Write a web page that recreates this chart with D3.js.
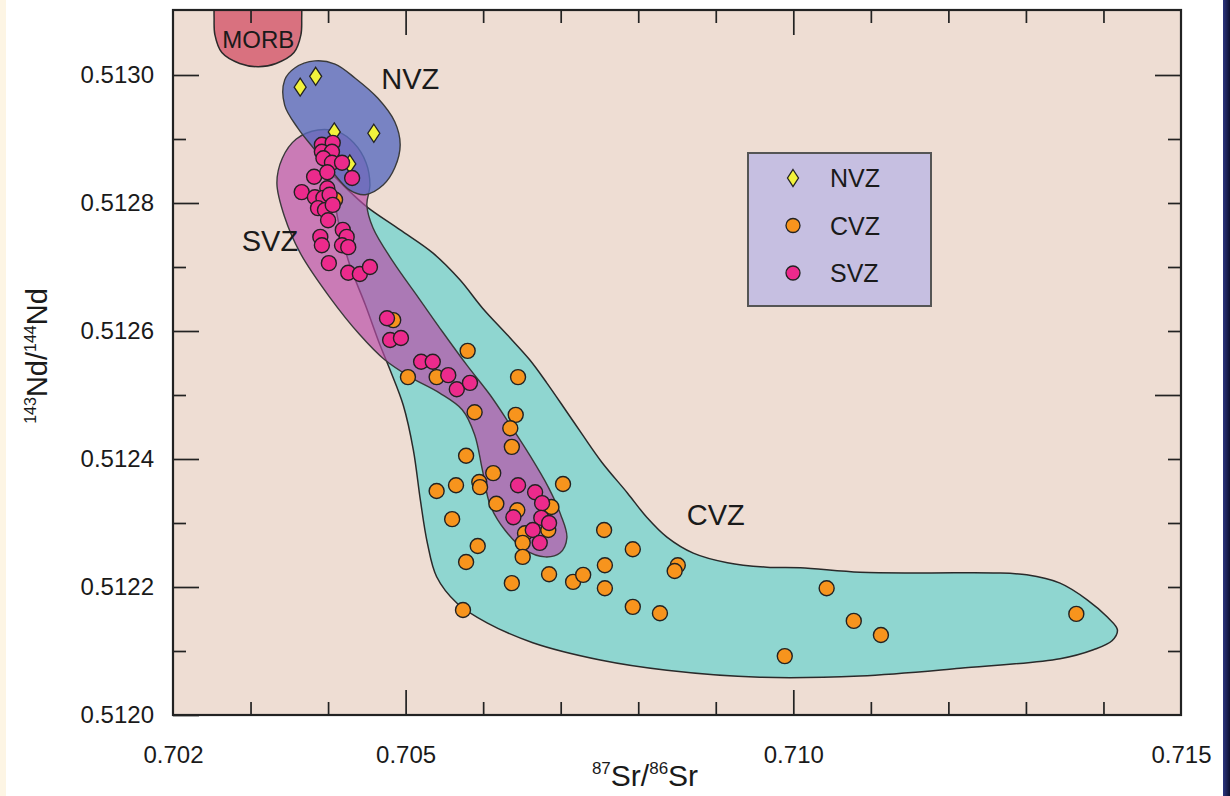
<!DOCTYPE html>
<html>
<head>
<meta charset="utf-8">
<script src="https://cdn.jsdelivr.net/npm/d3@7"></script>
<style>
  body { margin: 0; background: #fff; }
  text { font-family: "Liberation Sans", Arial, Helvetica, sans-serif; fill: #1a1a1a; }
</style>
</head>
<body>
<div id="app"></div>
<script>
// 87Sr/86Sr , 143Nd/144Nd
const nvzPoints = [
  [0.70364, 0.512981], [0.70384, 0.512998], [0.70408, 0.512911],
  [0.70459, 0.512909], [0.70428, 0.512861]
];

const cvzPoints = [
  [0.70484, 0.512617], [0.70409, 0.512805], [0.70503, 0.512528], [0.70540, 0.512528],
  [0.70580, 0.512569], [0.70645, 0.512528], [0.70589, 0.512473], [0.70642, 0.512469],
  [0.70635, 0.512448], [0.70637, 0.512419], [0.70578, 0.512405], [0.70613, 0.512378],
  [0.70703, 0.512361], [0.70540, 0.512350], [0.70565, 0.512359], [0.70595, 0.512364],
  [0.70596, 0.512356], [0.70617, 0.512330], [0.70688, 0.512325], [0.70644, 0.512320],
  [0.70560, 0.512306], [0.70654, 0.512284], [0.70684, 0.512289], [0.70756, 0.512289],
  [0.70651, 0.512269], [0.70593, 0.512264], [0.70578, 0.512239], [0.70651, 0.512247],
  [0.70793, 0.512259], [0.70685, 0.512220], [0.70637, 0.512206], [0.70716, 0.512208],
  [0.70729, 0.512219], [0.70757, 0.512234], [0.70851, 0.512234], [0.70847, 0.512225],
  [0.70757, 0.512198], [0.70793, 0.512169], [0.70828, 0.512159], [0.70574, 0.512164],
  [0.70989, 0.512092], [0.71043, 0.512198], [0.71078, 0.512147], [0.71113, 0.512125],
  [0.71365, 0.512158]
];

const svzPoints = [
  [0.70392, 0.512891], [0.70406, 0.512894], [0.70392, 0.512880], [0.70405, 0.512880],
  [0.70394, 0.512870], [0.70405, 0.512863], [0.70418, 0.512863], [0.70431, 0.512839],
  [0.70382, 0.512841], [0.70399, 0.512848], [0.70399, 0.512823], [0.70366, 0.512817],
  [0.70383, 0.512809], [0.70394, 0.512808], [0.70402, 0.512813], [0.70387, 0.512792],
  [0.70396, 0.512789], [0.70406, 0.512797], [0.70400, 0.512773], [0.70390, 0.512747],
  [0.70392, 0.512734], [0.70419, 0.512758], [0.70424, 0.512747], [0.70418, 0.512734],
  [0.70426, 0.512731], [0.70401, 0.512706], [0.70426, 0.512691], [0.70441, 0.512689],
  [0.70454, 0.512700], [0.70476, 0.512620], [0.70480, 0.512586], [0.70494, 0.512589],
  [0.70520, 0.512552], [0.70535, 0.512552], [0.70555, 0.512531], [0.70566, 0.512509],
  [0.70583, 0.512519], [0.70645, 0.512359], [0.70667, 0.512348], [0.70676, 0.512331],
  [0.70639, 0.512309], [0.70675, 0.512308], [0.70685, 0.512300], [0.70664, 0.512289],
  [0.70673, 0.512269]
];

// field outlines
const morbOutline = [
  [0.70253, 0.51318], [0.70253, 0.51312], [0.70253, 0.51309], [0.70254, 0.513063],
  [0.70263, 0.513035], [0.70286, 0.513018], [0.70310, 0.513013], [0.70333, 0.513018],
  [0.70356, 0.513035], [0.70365, 0.513063], [0.70366, 0.51309], [0.70366, 0.51312],
  [0.70366, 0.51318], [0.70310, 0.51322]
];

const nvzOutline = [
  [0.70344, 0.512992], [0.70357, 0.513011], [0.70383, 0.513022], [0.70409, 0.513017],
  [0.70435, 0.512995], [0.70464, 0.512964], [0.70486, 0.512927], [0.70493, 0.512891],
  [0.70486, 0.512855], [0.70471, 0.512828], [0.70448, 0.512813], [0.70428, 0.512820],
  [0.70406, 0.512848], [0.70383, 0.512883], [0.70361, 0.512917], [0.70344, 0.512953]
];

const svzOutline = [
  [0.70387, 0.512914], [0.70413, 0.512911], [0.70433, 0.512894], [0.70449, 0.512863],
  [0.70454, 0.512828], [0.70450, 0.512797], [0.70458, 0.512761], [0.70484, 0.512708],
  [0.70516, 0.512653], [0.70548, 0.512598], [0.70580, 0.512545], [0.70609, 0.512500],
  [0.70635, 0.512453], [0.70660, 0.512406], [0.70684, 0.512356], [0.70700, 0.512313],
  [0.70708, 0.512277], [0.70699, 0.512253], [0.70680, 0.512247], [0.70654, 0.512258],
  [0.70628, 0.512289], [0.70609, 0.512328], [0.70599, 0.512383], [0.70589, 0.512438],
  [0.70573, 0.512477], [0.70544, 0.512503], [0.70506, 0.512528], [0.70473, 0.512555],
  [0.70441, 0.512594], [0.70402, 0.512653], [0.70364, 0.512722], [0.70344, 0.512778],
  [0.70334, 0.512831], [0.70341, 0.512870], [0.70359, 0.512900]
];

const cvzOutline = [
  [0.70400, 0.512848], [0.70426, 0.512820], [0.70450, 0.512794], [0.70493, 0.512758],
  [0.70535, 0.512722], [0.70570, 0.512680], [0.70599, 0.512636], [0.70631, 0.512594],
  [0.70660, 0.512555], [0.70682, 0.512519], [0.70706, 0.512477], [0.70728, 0.512438],
  [0.70753, 0.512395], [0.70786, 0.512347], [0.70811, 0.512309], [0.70837, 0.512278],
  [0.70871, 0.512253], [0.70915, 0.512238], [0.70966, 0.512231], [0.71009, 0.512230],
  [0.71086, 0.512223], [0.71172, 0.512222], [0.71258, 0.512222], [0.71301, 0.512219],
  [0.71344, 0.512206], [0.71379, 0.512180], [0.71405, 0.512153], [0.71418, 0.512133],
  [0.71411, 0.512116], [0.71387, 0.512102], [0.71344, 0.512088], [0.71215, 0.512073],
  [0.71086, 0.512061], [0.70957, 0.512059], [0.70837, 0.512070], [0.70751, 0.512086],
  [0.70664, 0.512113], [0.70605, 0.512144], [0.70566, 0.512175], [0.70540, 0.512216],
  [0.70528, 0.512269], [0.70519, 0.512336], [0.70510, 0.512414], [0.70497, 0.512484],
  [0.70480, 0.512539], [0.70467, 0.512578], [0.70448, 0.512641], [0.70428, 0.512703],
  [0.70415, 0.512761], [0.70408, 0.512805]
];

const fieldLabels = [
  ['MORB', 0.70310, 0.513055],
  ['NVZ', 0.70506, 0.512995],
  ['SVZ', 0.70325, 0.512742],
  ['CVZ', 0.70900, 0.512313]
];

const seriesNames = ['NVZ', 'CVZ', 'SVZ'];

const xLabelTicks = [0.702, 0.705, 0.710, 0.715];
const xMajorTicks = [0.705, 0.710];
const xMinorTicks = [0.703, 0.704, 0.706, 0.707, 0.708, 0.709, 0.711, 0.712, 0.713, 0.714];
const yLabelTicks = [0.5120, 0.5122, 0.5124, 0.5126, 0.5128, 0.5130];
const yMinorTicks = [0.5121, 0.5123, 0.5125, 0.5127, 0.5129];
const yRightMajorTicks = [0.5125, 0.5130];
const yRightMinorTicks = [0.5121, 0.5122, 0.5123, 0.5124, 0.5126, 0.5127, 0.5128, 0.5129];

const width = 1230;
const height = 796;
const plotLeft = 173, plotRight = 1181, plotTop = 10, plotBottom = 715;

const colors = {
  NVZ: '#f2f23c',
  CVZ: '#f7941d',
  SVZ: '#ec2a8c'
};

const svg = d3.select('#app')
  .append('svg')
  .attr('width', width)
  .attr('height', height);

const defs = svg.append('defs');
defs.append('clipPath')
  .attr('id', 'plot-clip')
  .append('rect')
  .attr('x', plotLeft).attr('y', plotTop)
  .attr('width', plotRight - plotLeft).attr('height', plotBottom - plotTop);

const edge = defs.append('linearGradient').attr('id', 'edge');
edge.append('stop').attr('offset', '0%').attr('stop-color', '#2b3580');
edge.append('stop').attr('offset', '100%').attr('stop-color', '#0d1030');

// page edges
svg.append('rect').attr('x', 0).attr('y', 0).attr('width', 6).attr('height', height).attr('fill', '#fdf5e4');
svg.append('rect').attr('x', 1223).attr('y', 0).attr('width', 7).attr('height', height).attr('fill', 'url(#edge)');

const x = d3.scaleLinear().domain([0.702, 0.715]).range([plotLeft, plotRight]);
const y = d3.scaleLinear().domain([0.5120, 0.5131]).range([plotBottom, plotTop + 1]);

// plot background
svg.append('rect')
  .attr('x', plotLeft).attr('y', plotTop)
  .attr('width', plotRight - plotLeft).attr('height', plotBottom - plotTop)
  .attr('fill', '#eeddd3');

// 1. fields
const outline = d3.line()
  .x(d => x(d[0]))
  .y(d => y(d[1]))
  .curve(d3.curveCatmullRomClosed.alpha(0.5));

const fields = svg.append('g').attr('clip-path', 'url(#plot-clip)');

fields.append('path')
  .attr('d', outline(cvzOutline))
  .attr('fill', '#8fd6d0')
  .attr('stroke', '#2a2a2a')
  .attr('stroke-width', 1.5);

fields.append('path')
  .attr('d', outline(svzOutline))
  .attr('fill', '#b84ca8')
  .attr('fill-opacity', 0.68)
  .attr('stroke', '#3a3a3a')
  .attr('stroke-width', 1.4);

fields.append('path')
  .attr('d', outline(nvzOutline))
  .attr('fill', '#5a6dbf')
  .attr('fill-opacity', 0.8)
  .attr('stroke', '#3a3a3a')
  .attr('stroke-width', 1.4);

fields.append('path')
  .attr('d', outline(morbOutline))
  .attr('fill', '#d9717f')
  .attr('stroke', '#2a2a2a')
  .attr('stroke-width', 1.5);

// 2. axes (ticks point inward)
const tickAxis = (axis, values, size, transform, fmt, pad) => {
  const g = svg.append('g')
    .attr('transform', transform)
    .call(axis.tickValues(values).tickSizeInner(size).tickSizeOuter(0)
      .tickPadding(pad || 3).tickFormat(fmt || ''));
  g.select('.domain').remove();
  g.selectAll('line').attr('stroke', '#222').attr('stroke-width', 1.7);
  g.selectAll('text').attr('font-size', 24).attr('fill', '#1a1a1a')
    .style('font-family', '"Liberation Sans", Arial, sans-serif');
  return g;
};

tickAxis(d3.axisBottom(x), xMinorTicks, -13, `translate(0,${plotBottom})`);
tickAxis(d3.axisBottom(x), xMajorTicks, -25, `translate(0,${plotBottom})`);
tickAxis(d3.axisBottom(x), xLabelTicks, 0, `translate(0,${plotBottom})`, d3.format('.3f'), 31);
tickAxis(d3.axisTop(x), xMinorTicks, -13, `translate(0,${plotTop})`);
tickAxis(d3.axisTop(x), xMajorTicks, -25, `translate(0,${plotTop})`);

tickAxis(d3.axisLeft(y), yMinorTicks, -13, `translate(${plotLeft},0)`);
tickAxis(d3.axisLeft(y), yLabelTicks, -26, `translate(${plotLeft},0)`, d3.format('.4f'), 19);
tickAxis(d3.axisRight(y), yRightMinorTicks, -13, `translate(${plotRight},0)`);
tickAxis(d3.axisRight(y), yRightMajorTicks, -26, `translate(${plotRight},0)`);

svg.append('rect')
  .attr('x', plotLeft).attr('y', plotTop)
  .attr('width', plotRight - plotLeft).attr('height', plotBottom - plotTop)
  .attr('fill', 'none')
  .attr('stroke', '#222')
  .attr('stroke-width', 2.2);

// 3. samples
const diamond = 'M0,-9L6,0L0,9L-6,0Z';

svg.append('g')
  .selectAll('path')
  .data(nvzPoints)
  .enter()
    .append('path')
    .attr('d', diamond)
    .attr('transform', d => `translate(${x(d[0])},${y(d[1])})`)
    .attr('fill', colors.NVZ)
    .attr('stroke', '#222')
    .attr('stroke-width', 1.3);

[['CVZ', cvzPoints], ['SVZ', svzPoints]].forEach(([name, pts]) => {
  svg.append('g')
    .selectAll('circle')
    .data(pts)
    .enter()
      .append('circle')
      .attr('cx', d => x(d[0]))
      .attr('cy', d => y(d[1]))
      .attr('r', 7.5)
      .attr('fill', colors[name])
      .attr('stroke', '#222')
      .attr('stroke-width', 1.4);
});

// field names
svg.append('g')
  .selectAll('text')
  .data(fieldLabels)
  .enter()
    .append('text')
    .attr('x', d => x(d[1]))
    .attr('y', d => y(d[2]))
    .attr('dy', '0.36em')
    .attr('text-anchor', 'middle')
    .attr('font-size', d => d[0] === 'MORB' ? 24 : 29)
    .text(d => d[0]);

// 4. legend
const legend = svg.append('g').attr('transform', 'translate(748,153)');
legend.append('rect')
  .attr('width', 183).attr('height', 153)
  .attr('fill', '#c6bfe1')
  .attr('stroke', '#555')
  .attr('stroke-width', 2);

const item = legend.selectAll('g.item')
  .data(seriesNames)
  .enter()
    .append('g')
    .attr('transform', (d, i) => `translate(45,${25 + i * 47.5})`);

item.filter(d => d === 'NVZ')
  .append('path')
  .attr('d', 'M0,-8.5L5.5,0L0,8.5L-5.5,0Z')
  .attr('fill', colors.NVZ)
  .attr('stroke', '#222')
  .attr('stroke-width', 1.3);

item.filter(d => d !== 'NVZ')
  .append('circle')
  .attr('r', 7)
  .attr('fill', d => colors[d])
  .attr('stroke', '#222')
  .attr('stroke-width', 1.3);

item.append('text')
  .attr('x', 37)
  .attr('dy', '0.36em')
  .attr('font-size', 25)
  .text(d => d);

// 5. axis titles
const xTitle = svg.append('text')
  .attr('x', 645)
  .attr('y', 786)
  .attr('text-anchor', 'middle')
  .attr('font-size', 30);
xTitle.append('tspan').attr('font-size', 17).attr('dy', -12).text('87');
xTitle.append('tspan').attr('dy', 12).text('Sr/');
xTitle.append('tspan').attr('font-size', 17).attr('dy', -12).text('86');
xTitle.append('tspan').attr('dy', 12).text('Sr');

const yTitle = svg.append('text')
  .attr('transform', 'translate(47,356) rotate(-90)')
  .attr('text-anchor', 'middle')
  .attr('font-size', 29);
yTitle.append('tspan').attr('font-size', 16).attr('dy', -11).text('143');
yTitle.append('tspan').attr('dy', 11).text('Nd/');
yTitle.append('tspan').attr('font-size', 16).attr('dy', -11).text('144');
yTitle.append('tspan').attr('dy', 11).text('Nd');
</script>
</body>
</html>
